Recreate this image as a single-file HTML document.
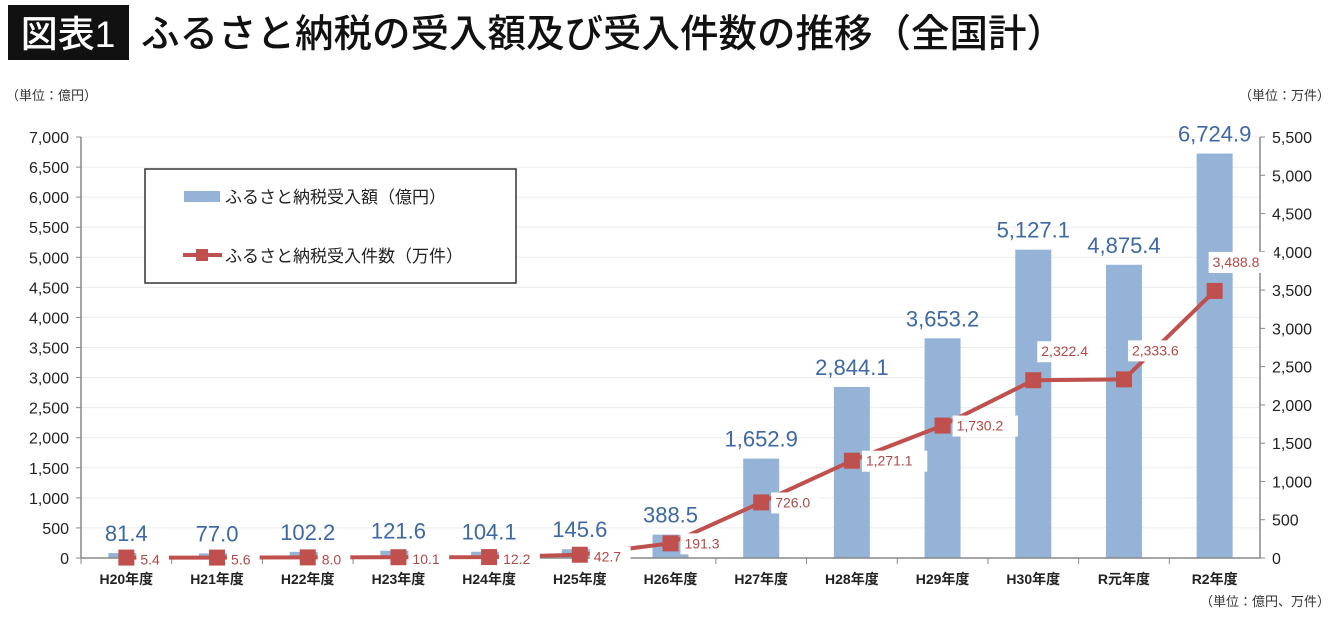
<!DOCTYPE html>
<html><head><meta charset="utf-8"><style>
body{margin:0;width:1340px;height:613px;background:#fff;overflow:hidden;font-family:"Liberation Sans","Noto Sans CJK JP",sans-serif;}
svg text{font-family:"Liberation Sans","Noto Sans CJK JP",sans-serif;}
</style></head><body>
<svg id="chart" width="1340" height="613" xmlns="http://www.w3.org/2000/svg">
<rect x="8" y="5" width="121" height="55" fill="#111"/>
<text x="68" y="47" font-size="37" font-weight="500" fill="#fff" text-anchor="middle">図表1</text>
<text x="141" y="47" font-size="38.5" font-weight="500" fill="#111">ふるさと納税の受入額及び受入件数の推移（全国計）</text>
<text x="6" y="100" font-size="13" fill="#333">（単位：億円）</text>
<text x="1330" y="100" font-size="13" fill="#333" text-anchor="end">（単位：万件）</text>
<text x="1330" y="606" font-size="13" fill="#333" text-anchor="end">（単位：億円、万件）</text>
<g id="grid"></g><g id="bars"></g><g id="axes"></g><g id="line"></g><g id="labels"></g>
<g>
<rect x="145" y="169" width="371" height="114" fill="#fff" stroke="#333" stroke-width="1.5"/>
<rect x="184" y="191" width="36" height="11" fill="#95b3d7"/>
<text x="225" y="203" font-size="17" fill="#222">ふるさと納税受入額（億円）</text>
<line x1="183" y1="255" x2="222" y2="255" stroke="#c0504d" stroke-width="4"/>
<rect x="196" y="249" width="12" height="12" fill="#c0504d"/>
<text x="225" y="262" font-size="17" fill="#222">ふるさと納税受入件数（万件）</text>
</g>
</svg>
<script>
const categories=["H20年度","H21年度","H22年度","H23年度","H24年度","H25年度","H26年度","H27年度","H28年度","H29年度","H30年度","R元年度","R2年度"];
const amounts=[81.4,77.0,102.2,121.6,104.1,145.6,388.5,1652.9,2844.1,3653.2,5127.1,4875.4,6724.9];
const counts=[5.4,5.6,8.0,10.1,12.2,42.7,191.3,726.0,1271.1,1730.2,2322.4,2333.6,3488.8];
const leftTicks=[0,500,1000,1500,2000,2500,3000,3500,4000,4500,5000,5500,6000,6500,7000];
const rightTicks=[0,500,1000,1500,2000,2500,3000,3500,4000,4500,5000,5500];
const NS="http://www.w3.org/2000/svg";
const X0=81,X1=1260,Y0=558,YT=137;
const band=(X1-X0)/categories.length;
const xc=i=>X0+band*(i+0.5);
const yl=v=>Y0-(v/7000)*(Y0-YT);
const yr=v=>Y0-(v/5500)*(Y0-YT);
function mk(t,a,p){const e=document.createElementNS(NS,t);for(const k in a)e.setAttribute(k,a[k]);p.appendChild(e);return e;}
const fmt=v=>v.toLocaleString('en-US',{minimumFractionDigits:1,maximumFractionDigits:1});
const grid=document.getElementById('grid'),axes=document.getElementById('axes'),bars=document.getElementById('bars'),line=document.getElementById('line'),labels=document.getElementById('labels');
leftTicks.forEach(v=>{
 if(v>0){const g=mk('line',{x1:X0,x2:X1,y1:yl(v),y2:yl(v),stroke:'#ececec','stroke-width':1},grid);
 
 }
 const t=mk('text',{x:X0-12,y:yl(v)+6,'font-size':16,'text-anchor':'end',fill:'#222'},axes);t.textContent=v.toLocaleString('en-US');
 
 
 mk('line',{x1:X0-5,x2:X0,y1:yl(v),y2:yl(v),stroke:'#888'},axes);
});
rightTicks.forEach(v=>{
 const t=mk('text',{x:X1+12,y:yr(v)+6,'font-size':16,fill:'#222'},axes);t.textContent=v.toLocaleString('en-US');
 
 
 mk('line',{x1:X1,x2:X1+5,y1:yr(v),y2:yr(v),stroke:'#888'},axes);
});
let a=mk('line',{x1:X0,x2:X0,y1:YT,y2:Y0,stroke:'#888','stroke-width':1.5},axes);


a=mk('line',{x1:X1,x2:X1,y1:YT,y2:Y0,stroke:'#888','stroke-width':1.5},axes);


a=mk('line',{x1:X0,x2:X1,y1:Y0,y2:Y0,stroke:'#888','stroke-width':1.5},axes);


categories.forEach((c,i)=>{
 mk('line',{x1:X0+band*i,x2:X0+band*i,y1:Y0,y2:Y0+6,stroke:'#888'},axes);
 const t=mk('text',{x:xc(i),y:Y0+26,'font-size':14,'font-weight':'bold','text-anchor':'middle',fill:'#222'},axes);t.textContent=c;
 
 
 const b=mk('rect',{x:xc(i)-18,y:yl(amounts[i]),width:36,height:Y0-yl(amounts[i]),fill:'#95b3d7'},bars);
 
 
 const bl=mk('text',{x:xc(i),y:yl(amounts[i])-12,'font-size':22,'text-anchor':'middle',fill:'#3d68a3'},labels);bl.textContent=fmt(amounts[i]);
 
 
});
const pl=mk('polyline',{points:counts.map((v,i)=>xc(i)+','+yr(v)).join(' '),fill:'none',stroke:'#c0504d','stroke-width':4},line);


counts.forEach((v,i)=>{
 const m=mk('rect',{x:xc(i)-8,y:yr(v)-8,width:16,height:16,fill:'#c0504d'},line);
 
 
 let dx=14,dy=7;
 if(i>=6){dy=5;}
 if(i==10||i==11){dx=8;dy=-24;}
 if(i==12){dx=-2;dy=-24;}
 const s=fmt(v);const w=s.length*8.2+8;
 mk('rect',{x:xc(i)+dx-4,y:yr(v)+dy-15,width:w,height:21,fill:'#fff'},labels);
 const t=mk('text',{x:xc(i)+dx,y:yr(v)+dy,'font-size':14,fill:'#b04a47'},labels);t.textContent=s;
 
 
});
</script>
</body></html>
